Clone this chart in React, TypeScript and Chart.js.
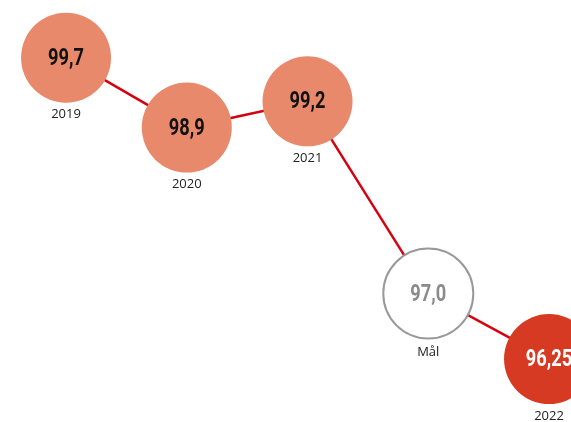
import React, { useEffect, useRef } from "react";
import { Chart, registerables } from "chart.js";

Chart.register(...registerables);

const categories = ["2019", "2020", "2021", "Mål", "2022"];
const values = [99.7, 98.9, 99.2, 97.0, 96.25];
const valueLabels = ["99,7", "98,9", "99,2", "97,0", "96,25"];
const fillColors = ["#E8896B", "#E8896B", "#E8896B", "#FFFFFF", "#D73A22"];
const borderColors = ["#E8896B", "#E8896B", "#E8896B", "#999999", "#D73A22"];
const borderWidths = [0, 0, 0, 2, 0];
const textColors = ["#111111", "#111111", "#111111", "#8A8A8A", "#FFFFFF"];

const labelPlugin = {
  id: "bubbleLabels",
  afterDatasetsDraw(chart: any) {
    const ctx = chart.ctx;
    const meta = chart.getDatasetMeta(0);
    meta.data.forEach((pt: any, i: number) => {
      const x = pt.x;
      const y = pt.y;
      ctx.save();
      ctx.textAlign = "center";
      ctx.textBaseline = "middle";
      ctx.fillStyle = textColors[i];
      ctx.font = "bold 24px Roboto, sans-serif";
      ctx.translate(x, y + 1);
      ctx.scale(0.76, 1);
      ctx.fillText(valueLabels[i], 0, 0);
      ctx.restore();
      ctx.save();
      ctx.textAlign = "center";
      ctx.textBaseline = "middle";
      ctx.fillStyle = "#222222";
      ctx.font = "13px 'Open Sans', sans-serif";
      const off = borderWidths[i] > 0 ? 59 : 57;
      ctx.fillText(categories[i], x, y + off);
      ctx.restore();
    });
  },
};

export default function App() {
  const ref = useRef<HTMLCanvasElement>(null);
  useEffect(() => {
    if (!ref.current) return;
    const chart = new Chart(ref.current, {
      type: "line",
      data: {
        labels: categories,
        datasets: [
          {
            data: values.map((v, i) => ({ x: i, y: v })),
            borderColor: "#D7000F",
            borderWidth: 2.5,
            pointRadius: 45,
            pointHoverRadius: 45,
            pointBackgroundColor: fillColors,
            pointBorderColor: borderColors,
            pointBorderWidth: borderWidths,
            tension: 0,
            clip: false as any,
          },
        ],
      },
      options: {
        animation: false,
        responsive: false,
        maintainAspectRatio: false,
        layout: { padding: 0, autoPadding: false },
        plugins: { legend: { display: false }, tooltip: { enabled: false } },
        events: [],
        scales: {
          x: { type: "linear", display: false, min: -0.547, max: 4.182 },
          y: { type: "linear", display: false, min: 95.53, max: 100.36 },
        },
      },
      plugins: [labelPlugin],
    });
    return () => chart.destroy();
  }, []);
  return (
    <div style={{ position: "fixed", left: 0, top: 0, width: 571, height: 422, background: "#fff" }}>
      <canvas ref={ref} width={571} height={422} style={{ display: "block" }} />
    </div>
  );
}
